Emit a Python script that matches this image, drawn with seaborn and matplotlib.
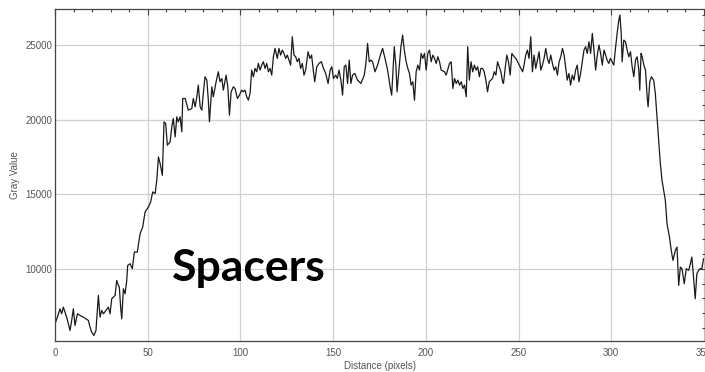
import matplotlib
matplotlib.use("Agg")
import matplotlib.pyplot as plt
from matplotlib.ticker import MultipleLocator
import pandas as pd
import seaborn as sns

# Profile (distance in pixels, gray value)
distance = [
    0, 1.3, 2.7, 3.6, 4.5, 5.4, 6.3, 8.1, 9.0, 9.9, 10.8, 12.1, 13.5, 15.3, 16.7, 18.0, 18.9, 19.8,
    21.0, 22.1, 23.4, 24.3, 25.2, 26.1, 27.5, 28.8, 29.7, 30.6, 32.4, 33.3, 34.2, 34.7, 35.4, 36.0,
    36.9, 37.8, 38.7, 39.2, 40.5, 41.7, 42.8, 44.4, 45.9, 47.3, 48.6, 50.4, 51.6, 52.7, 54.0, 54.9,
    55.8, 56.7, 57.9, 58.8, 59.7, 60.6, 62.1, 63.0, 63.8, 64.8, 65.7, 66.5, 67.5, 68.4, 68.9, 70.2,
    71.9, 73.8, 74.6, 75.6, 76.5, 77.3, 78.3, 79.2, 80.0, 80.9, 81.9, 82.7, 83.3, 84.6, 85.4, 86.9,
    88.1, 89.0, 90.0, 90.8, 92.3, 93.2, 94.1, 95.0, 96.2, 97.1, 98.4, 99.5,
    100.7, 101.6, 102.5, 103.4, 104.3, 105.2, 106.1, 107.0, 107.9, 108.8, 109.7, 110.6, 111.5,
    112.4, 113.3, 114.2, 115.1, 116.0, 116.9, 117.8, 118.7,
    119.9, 120.8, 121.7, 122.6, 123.5, 124.4, 125.3, 126.2, 127.1, 128.0, 128.9, 129.8, 130.7,
    131.6, 132.5, 133.4, 134.3, 135.2, 136.5, 137.5, 138.4, 139.4, 140.1, 141.2, 142.4, 143.7,
    144.8, 146.0, 147.3, 148.4, 149.3, 150.2, 151.4, 152.3, 153.2, 154.2, 155.1, 156.0, 156.9,
    157.8, 158.7, 159.6, 160.5, 161.7, 163.2, 165.0, 166.8, 167.7, 168.6, 169.5, 170.4, 171.3,
    172.6, 174.0, 175.5, 176.7, 178.0, 179.4, 180.9, 181.6, 182.5, 183.0, 183.9, 184.5, 185.7,
    186.6, 187.5, 188.4, 189.4, 190.3, 191.2, 192.1, 193.0, 193.9, 194.8, 195.7, 196.6, 197.5,
    198.4, 199.3, 200.2, 201.1, 202.0, 202.9, 203.8, 204.7, 205.6, 206.5, 207.4, 208.3, 210.1,
    211.0, 212.8, 213.7, 214.6, 215.5, 216.4, 217.3, 218.2, 219.1, 220.0, 220.9, 221.8,
    222.6, 223.5, 224.4, 225.3, 226.2, 227.1, 228.0, 228.9, 229.7, 230.6, 231.5, 232.4, 233.3,
    234.2, 235.1, 236.0, 236.9, 237.8, 238.7, 239.6, 240.5, 241.4, 241.9, 242.8, 243.7, 244.6,
    245.5, 246.4, 247.7, 248.6, 249.5, 250.4, 251.3, 252.2, 253.0, 253.9, 254.8, 255.7, 256.6,
    257.5, 258.4, 259.3, 260.2, 261.1, 262.0, 262.9, 263.8, 264.7, 265.6, 266.5, 267.4, 268.3,
    269.2, 270.1, 271.0, 271.9, 272.8, 273.7, 274.6, 275.4, 276.3, 277.2, 278.1, 279.0, 279.9,
    280.8, 281.7, 282.6, 283.5, 284.4, 285.3, 286.2, 287.1, 288.0, 288.9, 289.8, 290.7, 291.6,
    292.5, 293.4, 294.3, 295.2, 296.1, 297.0, 297.8, 298.7, 299.6, 300.5, 301.4, 302.3, 303.2,
    304.1, 304.7, 305.4, 305.9, 306.8, 307.7, 308.6, 309.5, 310.4, 311.3, 312.2, 313.1, 314.0,
    314.9, 315.4, 316.1, 316.7, 317.6, 318.5, 319.4, 319.9, 320.8, 321.7, 322.9, 323.8, 324.7,
    325.6, 326.5, 327.4, 329.2, 330.1, 331.4, 332.4, 333.3, 334.6, 335.5, 336.4, 337.3, 338.2,
    339.4, 340.5, 341.8, 342.7, 343.5, 344.4, 345.3, 346.2, 347.1, 348.0, 348.9, 349.8,
]
gray_value = [
    6296, 6744, 7304, 6968, 7416, 7080, 6744, 5848, 6520, 7304, 6184, 6968, 6856, 6744, 6632, 6520, 6072, 5736,
    5512, 5848, 8200, 6744, 7192, 6968, 7192, 7416, 6968, 7976, 8200, 9208, 8872, 8760, 7416, 6632,
    8648, 8312, 9208, 10216, 10328, 9992, 11112, 11112, 12344, 12792, 13800, 14136, 14472, 15144, 15032, 15928,
    17496, 17048, 16264, 19848, 19736, 18280, 18504, 19512, 20072, 18840, 20184, 19848, 20184, 19176, 21416, 21416,
    20632, 20744, 21416, 20856, 21528, 22312, 20856, 20632, 21752, 22872, 22648, 21304, 19848, 22200, 21528, 22536,
    23208, 22536, 22760, 21976, 22984, 22200, 20296, 21864, 22200, 22088, 21416, 21640,
    21976, 21864, 21976, 21528, 21304, 21752, 23320, 22872, 23432, 23208, 23768, 23320, 23656,
    23880, 23432, 23768, 23208, 23432, 22984, 24216, 24776,
    24104, 24776, 24328, 24664, 24440, 24104, 24328, 23992, 23656, 25560, 24328, 24216, 23880,
    24104, 23432, 23768, 22984, 23320, 24552, 24104, 24328, 23208, 22536, 23544, 23768, 23880,
    23432, 23096, 22424, 23320, 23544, 22760, 22984, 22760, 23320, 22648, 21640, 23544, 23656,
    22424, 23992, 22424, 22984, 23096, 22648, 22424, 22984, 23768, 25112, 23880, 23992, 23880,
    23208, 23656, 24328, 24776, 24104, 23320, 22088, 21640, 23656, 24888, 23544, 21864, 23544,
    24888, 25672, 24664, 23880, 23432, 23096, 22312, 22536, 21304, 23208, 23656, 23320, 24440,
    24104, 24440, 23320, 24440, 24664, 23880, 24328, 24104, 23768, 24216, 23880, 23320, 23208,
    22984, 23768, 23880, 22088, 22760, 22424, 22648, 22312, 22536, 22088, 22312, 21528,
    24888, 22648, 23880, 23208, 23656, 23320, 23544, 22872, 23432, 23432, 23208, 22648, 21864,
    22536, 22648, 22760, 23208, 22984, 23880, 23544, 23208, 22536, 22424, 23432, 24328, 23880,
    22984, 24440, 24216, 24104, 23880, 23656, 23432, 23208, 23656, 24328, 24664, 24104, 25560,
    23208, 24328, 23432, 23992, 24552, 23320, 23656, 24104, 24776, 24104, 23768, 24328, 23768,
    23320, 23544, 22984, 23880, 24216, 24776, 24328, 23544, 22648, 23096, 22312, 22984, 22648,
    23320, 23656, 22536, 23096, 23880, 24664, 24888, 24440, 25224, 24440, 25784, 24664, 23320,
    24328, 25000, 24440, 23656, 24664, 24328, 23992, 23768, 24104, 23880, 23656, 24776, 25784,
    26680, 27016, 25784, 23880, 25336, 25224, 24664, 24216, 24552, 23544, 22872, 23992, 24216,
    23320, 21976, 24440, 24216, 23656, 23320, 21528, 20856, 22536, 22872, 22648, 21752, 20184,
    18616, 17048, 15928, 14584, 13016, 12120, 11224, 10552, 11224, 11448, 8872, 10104, 9992,
    8984, 9992, 9880, 10328, 10776, 9432, 7976, 9656, 9880, 9992, 9992, 10664,
]

df = pd.DataFrame({"Distance (pixels)": distance, "Gray Value": gray_value})

sns.set_style("white")
plt.rcParams["font.family"] = ["Liberation Sans", "DejaVu Sans"]

fig = plt.figure(figsize=(7.05, 3.72), dpi=100)
ax = fig.add_axes([0.078, 0.083, 0.9215, 0.892])

sns.lineplot(data=df, x="Distance (pixels)", y="Gray Value", sort=False,
             color="#1a1a1a", linewidth=0.9, ax=ax)

ax.set_xlim(0, 350.4)
ax.set_ylim(5134, 27400)
ax.xaxis.set_major_locator(MultipleLocator(50))
ax.xaxis.set_minor_locator(MultipleLocator(10))
ax.set_yticks([10000, 15000, 20000, 25000])
ax.yaxis.set_minor_locator(MultipleLocator(1000))

ax.grid(True, which="major", color="#d0d0d0", linewidth=0.9)
ax.tick_params(which="both", direction="in", top=True, right=True,
               colors="#444444", labelcolor="#555555", labelsize=7)
ax.tick_params(which="major", length=4.3, width=0.8, pad=5)
ax.tick_params(which="minor", length=2.2, width=0.8)
ax.tick_params(axis="y", which="major", pad=2)
for s in ax.spines.values():
    s.set_color("#444444")
    s.set_linewidth(0.9)

ax.set_xlabel("Distance (pixels)", fontsize=7, color="#555555", labelpad=2)
ax.set_ylabel("Gray Value", fontsize=7, color="#555555", labelpad=4)

ax.text(0.18, 0.18, "Spacers", transform=ax.transAxes, fontsize=32,
        fontweight="bold", family=["Lato", "DejaVu Sans"], color="black",
        ha="left", va="baseline")

fig.savefig("out.png", dpi=100)
